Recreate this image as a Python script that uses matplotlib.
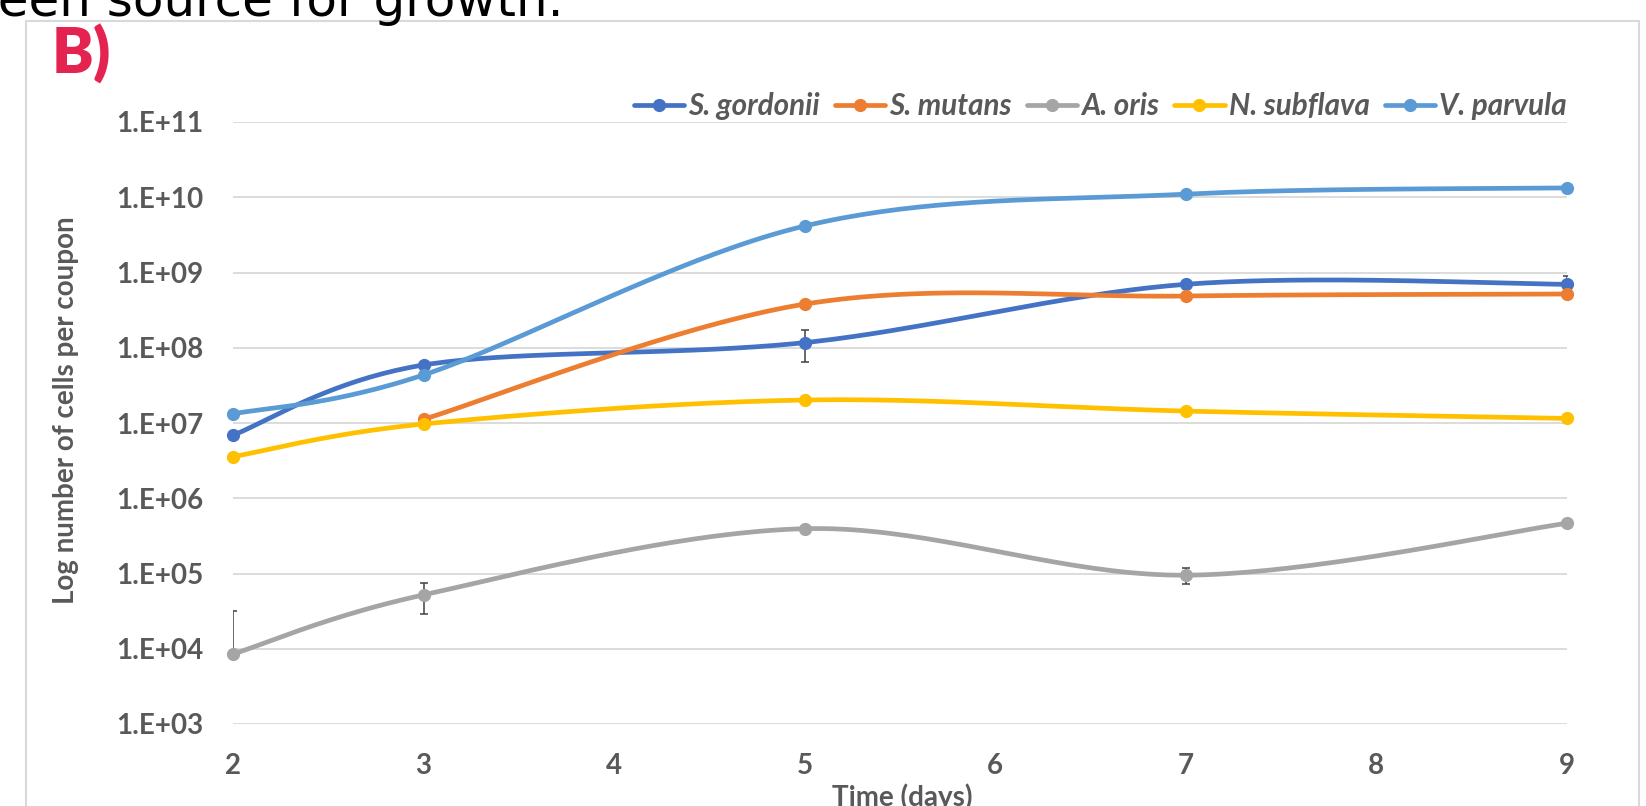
import numpy as np
import matplotlib
matplotlib.use("Agg")
import matplotlib.pyplot as plt
from matplotlib.patches import Rectangle
from matplotlib.ticker import FixedLocator, NullLocator, FixedFormatter

# ---------------- data ----------------
days = [2, 3, 5, 7, 9]
mutans_days = [3, 5, 7, 9]

s_gordonii = [6.9e6, 5.9e7, 1.17e8, 6.97e8, 6.97e8]
s_gordonii_err = [0, 0, 5.3e7, 0, 2.1e8]
s_mutans = [1.12e7, 3.8e8, 4.87e8, 5.18e8]
a_oris = [8.5e3, 5.2e4, 3.94e5, 9.5e4, 4.65e5]
a_oris_err = [2.35e4, 2.3e4, 0, 2.3e4, 0]
n_subflava = [3.57e6, 9.7e6, 2.02e7, 1.44e7, 1.15e7]
v_parvula = [1.32e7, 4.35e7, 4.15e9, 1.1e10, 1.33e10]

series_names = ["S. gordonii", "S. mutans", "A. oris", "N. subflava", "V. parvula"]
series_colors = ["#4472C4", "#ED7D31", "#A5A5A5", "#FFC000", "#5B9BD5"]

x_ticks = [2, 3, 4, 5, 6, 7, 8, 9]
y_exponents = [3, 4, 5, 6, 7, 8, 9, 10, 11]
y_tick_labels = ["1.E+03", "1.E+04", "1.E+05", "1.E+06", "1.E+07",
                 "1.E+08", "1.E+09", "1.E+10", "1.E+11"]

heading_text = "been source for growth."
panel_label = "B)"
x_label = "Time (days)"
y_label = "Log number of cells per coupon"

FONT = ["Lato", "DejaVu Sans"]
GRAY = "#595959"
W, H = 1646, 806


def smooth(xs, ys, n=40):
    """Excel-like smoothed line: cubic Bezier through points in (x, log y)."""
    P = np.column_stack([np.asarray(xs, float), np.log10(np.asarray(ys, float))])
    m = len(P)
    out = []
    marks = []
    for i in range(m - 1):
        p0 = P[i - 1] if i > 0 else P[i]
        p1, p2 = P[i], P[i + 1]
        p3 = P[i + 2] if i + 2 < m else P[i + 1]
        c1 = p1 + (p2 - p0) / 6.0
        c2 = p2 - (p3 - p1) / 6.0
        t = np.linspace(0, 1, n, endpoint=False)[:, None]
        seg = ((1 - t) ** 3) * p1 + 3 * ((1 - t) ** 2) * t * c1 + 3 * (1 - t) * t ** 2 * c2 + t ** 3 * p2
        marks.append(len(out))
        out.extend(seg.tolist())
    marks.append(len(out))
    out.append(P[-1].tolist())
    out = np.array(out)
    return out[:, 0], 10 ** out[:, 1], marks


fig = plt.figure(figsize=(W / 100, H / 100), dpi=100)
ax = fig.add_axes([233 / W, 1 - 724 / H, (1567 - 233) / W, (724 - 122) / H])

# error bars (below the lines)
def draw_err(xs, ys, err):
    xs = np.asarray(xs, float); ys = np.asarray(ys, float); err = np.asarray(err, float)
    sel = err > 0
    lower = np.where(ys - err > 0, err, 0.0)
    ax.errorbar(xs[sel], ys[sel], yerr=[lower[sel], err[sel]], fmt="none",
                ecolor="#404040", elinewidth=1.1, capsize=3.2, capthick=1.1, zorder=1)

draw_err(days, s_gordonii, s_gordonii_err)
draw_err(days, a_oris, a_oris_err)

all_x = [days, mutans_days, days, days, days]
all_y = [s_gordonii, s_mutans, a_oris, n_subflava, v_parvula]
for xs, ys, name, col in zip(all_x, all_y, series_names, series_colors):
    sx, sy, mk = smooth(xs, ys)
    ax.plot(sx, sy, color=col, lw=3.4, marker="o", markersize=8.5,
            markevery=mk, label=name, clip_on=False, zorder=3,
            solid_capstyle="round")

ax.set_yscale("log")
ax.set_xlim(2, 9)
ax.set_ylim(1e3, 1e11)
ax.yaxis.set_major_locator(FixedLocator([10.0 ** e for e in y_exponents]))
ax.yaxis.set_major_formatter(FixedFormatter(y_tick_labels))
ax.yaxis.set_minor_locator(NullLocator())
ax.xaxis.set_major_locator(FixedLocator(x_ticks))
ax.xaxis.set_minor_locator(NullLocator())
ax.set_xticklabels([str(v) for v in x_ticks])
ax.grid(axis="y", color="#D9D9D9", lw=1.3, zorder=0)
ax.set_axisbelow(True)
for s in ax.spines.values():
    s.set_visible(False)
ax.tick_params(axis="y", length=0, pad=21.5, labelcolor=GRAY, labelsize=20)
ax.tick_params(axis="x", length=0, pad=21, labelcolor=GRAY, labelsize=20)
for lab in ax.get_xticklabels() + ax.get_yticklabels():
    lab.set_fontfamily(FONT)
    lab.set_fontweight("bold")

leg = ax.legend(loc="center right", bbox_to_anchor=(1.0, (724 - 106) / (724 - 122)),
                ncol=5, frameon=False, borderpad=0, borderaxespad=0,
                handlelength=1.7, handletextpad=0.15, columnspacing=0.5,
                prop={"family": FONT, "weight": "bold", "style": "italic", "size": 21.3})
for t in leg.get_texts():
    t.set_color(GRAY)

fig.text(66 / W, 1 - 410 / H, y_label, rotation=90, ha="center", va="center",
         color=GRAY, fontsize=20, fontweight="bold", family=FONT)
fig.text(902 / W, 1 - 783 / H, x_label, ha="center", va="top",
         color=GRAY, fontsize=20, fontweight="bold", family=FONT)

fig.text(52 / W, 1 - 74 / H, panel_label, ha="left", va="baseline",
         color="#E52350", fontsize=45, fontweight="heavy", family=FONT)

fig.text(-34 / W, 1 - 16 / H, heading_text, ha="left", va="baseline",
         color="black", fontsize=36, family=["DejaVu Sans"])

fig.add_artist(Rectangle((26 / W, -0.2), (1639 - 26) / W, 1.2 - 21 / H,
                         transform=fig.transFigure, fill=False,
                         ec="#D9D9D9", lw=1.5, zorder=0))

fig.savefig("out.png", dpi=100)
